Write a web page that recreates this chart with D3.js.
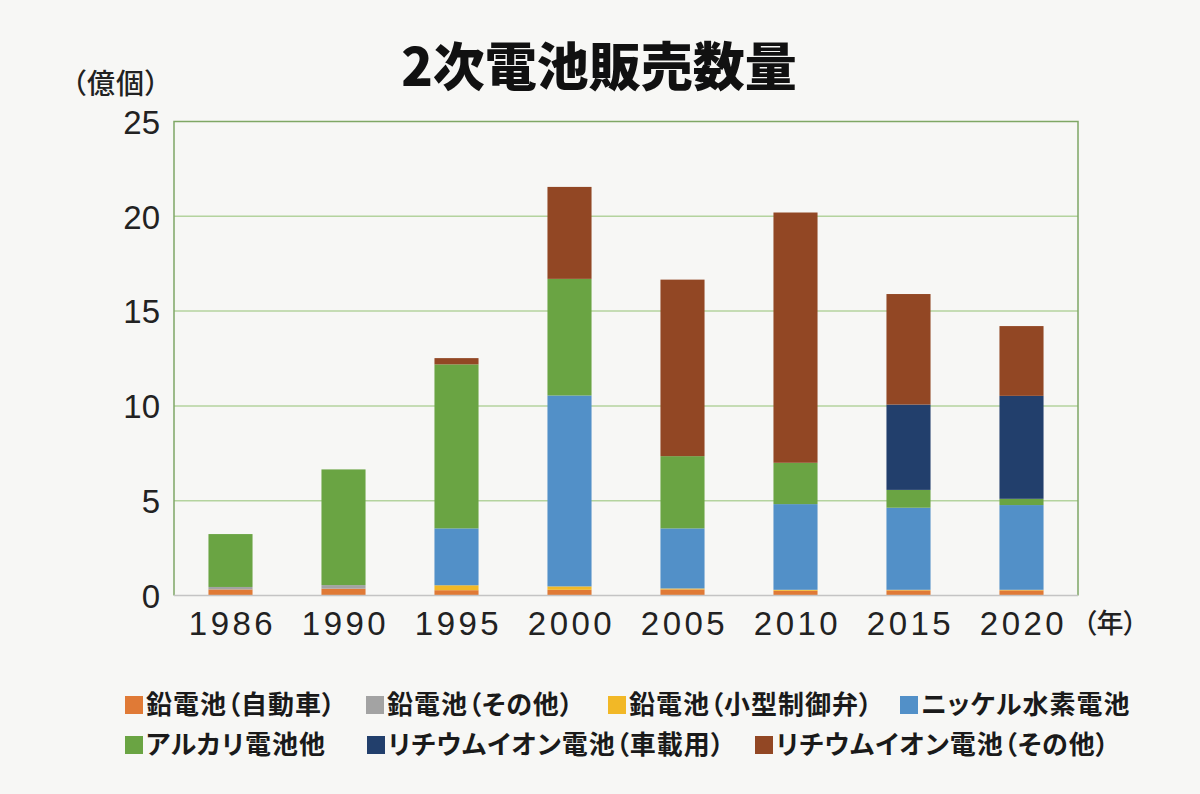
<!DOCTYPE html>
<html lang="ja">
<head>
<meta charset="utf-8">
<script src="https://cdn.jsdelivr.net/npm/d3@7"></script>
<style>
  html, body { margin: 0; padding: 0; background: #f7f7f5; }
  svg { display: block; }
  .cjk { font-family: "Noto Sans CJK JP", "Noto Sans", sans-serif; font-feature-settings: "palt"; }
  .num { font-family: "Liberation Sans", Arial, sans-serif; }
</style>
</head>
<body>
<svg id="chart" width="1200" height="794"></svg>
<script>
// categories and series (億個)
const years = ["1986", "1990", "1995", "2000", "2005", "2010", "2015", "2020"];
const seriesNames = ["鉛電池（自動車）", "鉛電池（その他）", "鉛電池（小型制御弁）", "ニッケル水素電池",
                     "アルカリ電池他", "リチウムイオン電池（車載用）", "リチウムイオン電池（その他）"];
const leadAuto    = [0.32, 0.36, 0.28, 0.30, 0.32, 0.25, 0.27, 0.27];
const leadOther   = [0.13, 0.19, 0, 0, 0, 0, 0, 0];
const leadVrla    = [0, 0, 0.26, 0.18, 0.05, 0.05, 0.03, 0.03];
const nimh        = [0, 0, 3.00, 10.07, 3.17, 4.52, 4.33, 4.47];
const alkaline    = [2.79, 6.10, 8.65, 6.15, 3.81, 2.18, 0.94, 0.33];
const liionCar    = [0, 0, 0, 0, 0, 0, 4.50, 5.43];
const liionOther  = [0, 0, 0.33, 4.85, 9.31, 13.20, 5.83, 3.68];
const yTicks = [0, 5, 10, 15, 20, 25];
const colors = ["#e07a36", "#a3a3a3", "#f2b826", "#5290c8", "#6aa443", "#223f6c", "#924724"];

const seriesValues = [leadAuto, leadOther, leadVrla, nimh, alkaline, liionCar, liionOther];
const rows = years.map((y, i) => {
  const r = { year: y };
  seriesNames.forEach((k, j) => r[k] = seriesValues[j][i]);
  return r;
});

const svg = d3.select("#chart");
const plotL = 174, plotR = 1078, plotT = 121.5, plotB = 595.5;

const x = d3.scaleBand().domain(years).range([plotL, plotR]).paddingInner(0.61).paddingOuter(0.305);
const y = d3.scaleLinear().domain([0, 25]).range([plotB, plotT]);

// title
svg.append("text").attr("class", "cjk")
  .attr("x", 599).attr("y", 86)
  .attr("text-anchor", "middle")
  .attr("font-size", 52).attr("font-weight", 900).attr("fill", "#111")
  .text("2次電池販売数量");

// unit label
svg.append("text").attr("class", "cjk")
  .attr("x", 72).attr("y", 94)
  .attr("font-size", 28).attr("font-weight", 500).attr("fill", "#222")
  .attr("letter-spacing", 1)
  .text("（億個）");

// gridlines
svg.append("g").selectAll("line")
  .data(yTicks.filter(t => t > 0 && t < 25))
  .join("line")
  .attr("x1", plotL).attr("x2", plotR)
  .attr("y1", d => y(d)).attr("y2", d => y(d))
  .attr("stroke", "#b4d39e").attr("stroke-width", 1.5);

// frame (left, top, right in green)
svg.append("path")
  .attr("d", `M${plotL},${plotB} V${plotT} H${plotR} V${plotB}`)
  .attr("fill", "none").attr("stroke", "#7fa765").attr("stroke-width", 1.5);

// bars
const stack = d3.stack().keys(seriesNames)(rows);
svg.append("g").selectAll("g")
  .data(stack)
  .join("g")
  .attr("fill", (d, i) => colors[i])
  .selectAll("rect")
  .data(d => d)
  .join("rect")
  .attr("x", d => x(d.data.year))
  .attr("width", x.bandwidth())
  .attr("y", d => y(d[1]))
  .attr("height", d => Math.max(0, y(d[0]) - y(d[1])));

// baseline
svg.append("line")
  .attr("x1", plotL).attr("x2", plotR).attr("y1", plotB).attr("y2", plotB)
  .attr("stroke", "#c4c4c4").attr("stroke-width", 1.5);

// y axis labels
const yAxis = svg.append("g").attr("transform", `translate(${plotL},0)`)
  .call(d3.axisLeft(y).tickValues(yTicks).tickSize(0).tickPadding(14));
yAxis.select(".domain").remove();
yAxis.selectAll("text").attr("class", "num")
  .attr("font-size", 33).attr("fill", "#222").attr("dy", "0.36em");

// x axis labels
const xAxis = svg.append("g").attr("transform", `translate(0,${plotB})`)
  .call(d3.axisBottom(x).tickSize(0).tickPadding(16));
xAxis.select(".domain").remove();
xAxis.selectAll("text").attr("class", "num")
  .attr("font-size", 33).attr("fill", "#222").attr("letter-spacing", 3.5)
  .attr("dx", 2).attr("dy", "0.71em");

svg.append("text").attr("class", "cjk")
  .attr("x", 1083).attr("y", 633)
  .attr("font-size", 27).attr("font-weight", 500).attr("fill", "#222")
  .text("（年）");

// legend
const legendPos = [[125, 705], [366, 705], [608, 705], [900, 705], [125, 745], [367, 745], [755, 745]];
const legend = svg.append("g").selectAll("g")
  .data(seriesNames)
  .join("g")
  .attr("transform", (d, i) => `translate(${legendPos[i][0]},${legendPos[i][1]})`);
legend.append("rect")
  .attr("x", 0).attr("y", -9).attr("width", 18).attr("height", 18)
  .attr("fill", (d, i) => colors[i]);
legend.append("text").attr("class", "cjk")
  .attr("x", 21).attr("y", 0).attr("dy", "0.36em")
  .attr("font-size", 26).attr("font-weight", 700).attr("fill", "#1a1a1a")
  .attr("letter-spacing", 1)
  .text(d => d);
</script>
</body>
</html>
